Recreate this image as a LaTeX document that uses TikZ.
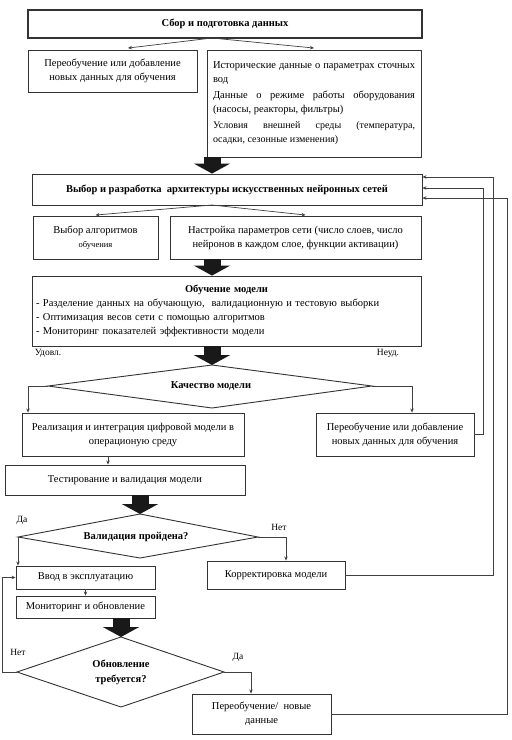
\documentclass[tikz,border=0pt]{standalone}
\usepackage{fontspec}
\setmainfont{Liberation Serif}
\usetikzlibrary{arrows.meta,calc}
\begin{document}
\begin{tikzpicture}[x=1pt,y=-1pt,
 box/.style={draw=black!80, line width=0.9pt, inner sep=2pt, align=center, font=\fontsize{10.5}{14}\selectfont},
 bbox/.style={box, font=\bfseries\fontsize{10.5}{14}\selectfont},
 thinarr/.style={draw=black!75, line width=0.7pt, -{Stealth[length=4pt,width=3.5pt]}},
 blk/.style={draw=black!90, line width=17pt, -{Triangle[length=10pt,width=36pt]}},
 lbl/.style={font=\fontsize{9.5}{11}\selectfont, inner sep=0pt},
 dia/.style={draw=black!80, line width=0.9pt},
 dtext/.style={font=\bfseries\fontsize{10.5}{15}\selectfont, align=center, inner sep=0pt}
]
\useasboundingbox (0,0) rectangle (512,740);
\fill[white] (0,0) rectangle (512,740);

% boxes
\node[bbox, minimum width=394pt, minimum height=28pt, line width=1.3pt] (top) at (225,24) {Сбор и подготовка данных};
\node[box, minimum width=169pt, minimum height=42pt] (left1) at (112.5,71) {Переобучение или добавление\\новых данных для обучения};
\node[box, minimum width=214pt, minimum height=107pt, text width=202pt, align=justify] (hist) at (314,103.5)
 {Исторические данные о параметрах сточных\linebreak вод\par\vspace{2pt}
  Данные о режиме работы оборудования\linebreak (насосы, реакторы, фильтры)\par\vspace{2pt}
  {\fontsize{10}{14}\selectfont Условия внешней среды (температура,\linebreak осадки, сезонные изменения)\par}};
\node[bbox, minimum width=390pt, minimum height=31pt] (arch) at (227,189.5) {Выбор и разработка\ \ архитектуры искусственных нейронных сетей};
\node[box, minimum width=125pt, minimum height=43pt] (alg) at (95.5,237.5) {Выбор алгоритмов\\{\fontsize{8.5}{10}\selectfont обучения}};
\node[box, minimum width=251pt, minimum height=43pt] (param) at (295.5,237.5) {Настройка параметров сети (число слоев, число\\нейронов в каждом слое, функции активации)};
\node[box, minimum width=389pt, minimum height=70pt, text width=381pt, align=left] (train) at (226.5,311)
 {\makebox[\linewidth]{\textbf{Обучение модели}}\\
  - Разделение данных на обучающую,\ \ валидационную и тестовую выборки\\
  - Оптимизация весов сети с помощью алгоритмов\\
  - Мониторинг показателей эффективности модели};
\node[box, minimum width=222pt, minimum height=43pt] (impl) at (133,434.5) {Реализация и интеграция цифровой модели в\\операционую среду};
\node[box, minimum width=158pt, minimum height=43pt] (re2) at (395,434.5) {Переобучение или добавление\\новых данных для обучения};
\node[box, minimum width=240pt, minimum height=30pt] (test) at (125,480) {Тестирование и валидация модели};
\node[box, minimum width=139pt, minimum height=23pt] (vvod) at (85.5,577.5) {Ввод в эксплуатацию};
\node[box, minimum width=138pt, minimum height=28pt] (korr) at (276,575) {Корректировка модели};
\node[box, minimum width=139pt, minimum height=22pt] (monitor) at (85.5,607) {Мониторинг и обновление};
\node[box, minimum width=139pt, minimum height=40pt] (re3) at (261.5,714) {Переобучение/\ \ новые\\данные};

% diamonds
\coordinate (qT) at (212,365); \coordinate (qR) at (372,386);
\coordinate (qB) at (212,408); \coordinate (qL) at (48,386);
\draw[dia] (qT) -- (qR) -- (qB) -- (qL) -- cycle;
\node[dtext] (qtext) at (211,386) {Качество модели};

\coordinate (vT) at (140,514); \coordinate (vR) at (258,537);
\coordinate (vB) at (140,558); \coordinate (vL) at (18,537);
\draw[dia] (vT) -- (vR) -- (vB) -- (vL) -- cycle;
\node[dtext] (vtext) at (136,537) {Валидация пройдена?};

\coordinate (uT) at (121,637); \coordinate (uR) at (224,672);
\coordinate (uB) at (121,707); \coordinate (uL) at (17,672);
\draw[dia] (uT) -- (uR) -- (uB) -- (uL) -- cycle;
\node[dtext] (utext) at (121,672) {Обновление\\требуется?};

% fan-out arrows
\coordinate (c1) at (212,38);
\draw[thinarr] (c1) -- ($(left1.north)+(15.5,-1.5)$);
\draw[thinarr] (c1) -- ($(hist.north)+(0,-1.5)$);
\coordinate (c2) at (212,205);
\draw[thinarr] (c2) -- ($(alg.north)+(0,-0.5)$);
\draw[thinarr] (c2) -- ($(param.north)+(10,-0.5)$);

% block arrows
\draw[blk] (c1 |- hist.south) -- (c1 |- arch.north);
\draw[blk] (c2 |- param.south) -- (c2 |- train.north);
\draw[blk] (c2 |- train.south) -- (qT);
\draw[blk] (vT |- test.south) -- (vT);
\draw[blk] (uT |- monitor.south) -- (uT);

% decision branches
\coordinate (qLc) at (28,386);
\draw[thinarr] (qL) -- (qLc) -- (qLc |- impl.north);
\coordinate (qRc) at (412,386);
\draw[thinarr] (qR) -- (qRc) -- (qRc |- re2.north);
\coordinate (it) at (108,456);
\draw[thinarr] (it |- impl.south) -- (it |- test.north);
\draw[thinarr] (vL) -- (vL |- vvod.north);
\draw[thinarr] (vR) -| ($(korr.north)+(10,0)$);
\draw[thinarr] (vvod.south) -- (monitor.north);
\coordinate (uLc) at (2,672);
\draw[thinarr] (uL) -- (uLc) |- (vvod.west);
\draw[thinarr] (uR) -| ($(re3.north)+(-10.5,0)$);

% feedback loops
\coordinate (fbA) at (493,177);
\coordinate (fbB) at (483,188);
\coordinate (fbC) at (507,198);
\draw[thinarr] (korr.east) -| (fbA) -- (fbA -| arch.east);
\draw[thinarr] (re2.east) -| (fbB) -- (fbB -| arch.east);
\draw[thinarr] (re3.east) -| (fbC) -- (fbC -| arch.east);

% labels
\node[lbl] (l1) at (48,353) {Удовл.};
\node[lbl] (l2) at (388,353) {Неуд.};
\node[lbl] (l3) at (22,520) {Да};
\node[lbl] (l4) at (279,527) {Нет};
\node[lbl] (l5) at (18,652) {Нет};
\node[lbl] (l6) at (238,657) {Да};
\end{tikzpicture}
\end{document}
